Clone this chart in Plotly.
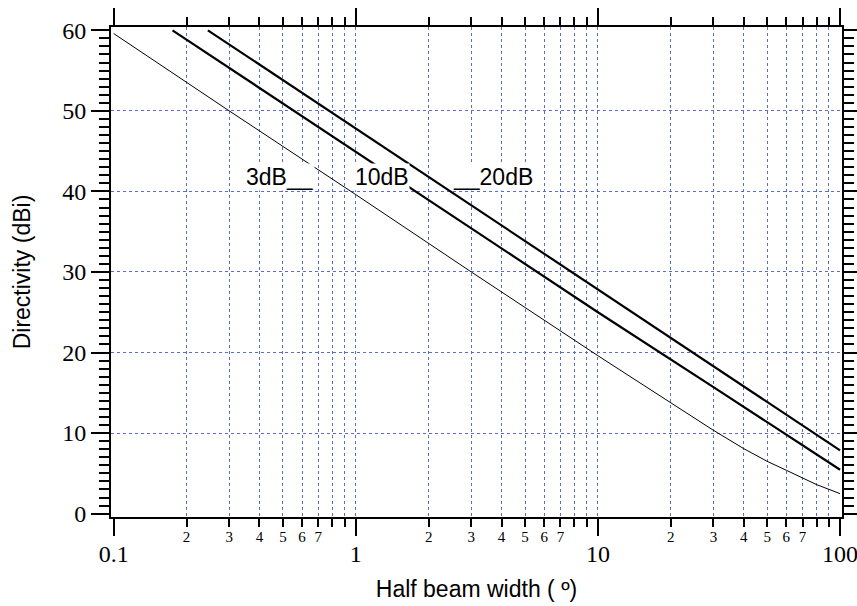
import math
import plotly.graph_objects as go

# ---- data ----
x_3db = [0.1, 0.3, 1, 3, 10, 20, 30, 40, 50, 60, 70, 80, 100]
y_3db = [59.6, 50.0, 39.6, 30.0, 19.6, 13.73, 10.34, 8.07, 6.49, 5.38, 4.42, 3.6, 2.48]

x_10db = [0.175, 1, 3, 10, 30, 100]
y_10db = [60.0, 44.9, 35.4, 25.0, 15.7, 5.45]

x_20db = [0.245, 1, 3, 10, 30, 100]
y_20db = [60.0, 47.8, 38.2, 27.8, 18.3, 7.85]

major_x = [0.1, 1, 10, 100]
major_x_text = ["0.1", "1", "10", "100"]
minor_digits = [2, 3, 4, 5, 6, 7, 8, 9]
labeled_digits = [2, 3, 4, 5, 6, 7]
decades = [0.1, 1, 10]
y_ticks = [0, 10, 20, 30, 40, 50, 60]
y_grid = [10, 20, 30, 40, 50]

labels = ["3dB__", "10dB", "__20dB"]
label_x = [0.35, 0.98, 2.5]
label_y = [41.8, 41.8, 41.8]

minor_x = [d * m for d in decades for m in minor_digits]
grid_x = sorted(minor_x + [1, 10])
grid_x_text = [str(m) if m in labeled_digits else ""
               for m in [round(v / 10 ** math.floor(math.log10(v) + 1e-9)) for v in grid_x]]

GRID = "#5a6ec8"
SERIF = "Liberation Serif, Times New Roman, serif"
SANS = "Liberation Sans, Arial, sans-serif"

fig = go.Figure()
fig.add_trace(go.Scatter(x=x_3db, y=y_3db, mode="lines",
                         line=dict(color="black", width=1), showlegend=False))
fig.add_trace(go.Scatter(x=x_10db, y=y_10db, mode="lines", yaxis="y2",
                         line=dict(color="black", width=2.2), showlegend=False))
fig.add_trace(go.Scatter(x=x_20db, y=y_20db, mode="lines", xaxis="x2",
                         line=dict(color="black", width=2.2), showlegend=False))

xrange = [-1.011, 2.008]
yrange = [-0.42, 60.41]

fig.update_layout(
    width=857, height=606,
    margin=dict(l=111, r=15, t=27, b=89),
    paper_bgcolor="white", plot_bgcolor="white",
    showlegend=False,
    xaxis=dict(
        type="log", range=xrange, automargin=False,
        tickvals=major_x, ticktext=major_x_text,
        tickfont=dict(family=SERIF, size=24, color="black"),
        ticklabelstandoff=-3, ticklabeloverflow="allow",
        ticks="outside", ticklen=17, tickwidth=2, tickcolor="black",
        showline=True, linewidth=2, linecolor="black", mirror="ticks",
        showgrid=False, zeroline=False,
        minor=dict(tickvals=minor_x, ticks="outside", ticklen=8, tickwidth=1.5,
                   tickcolor="black", showgrid=False),
        title=dict(text="Half beam width ( º)", font=dict(family=SANS, size=23, color="black"),
                   standoff=15),
    ),
    xaxis2=dict(
        type="log", range=xrange, overlaying="x", anchor="y", side="bottom",
        automargin=False,
        tickvals=grid_x, ticktext=grid_x_text,
        tickfont=dict(family=SERIF, size=15, color="black"),
        ticklabelstandoff=-2, ticklabeloverflow="allow",
        ticks="outside", ticklen=8, tickcolor="rgba(0,0,0,0)",
        showline=False, zeroline=False,
        showgrid=True, gridcolor=GRID, griddash="dot", gridwidth=1,
    ),
    yaxis=dict(
        range=yrange, automargin=False,
        tickvals=y_ticks,
        tickfont=dict(family=SERIF, size=24, color="black"),
        ticks="outside", ticklen=18, tickwidth=2, tickcolor="black",
        showline=True, linewidth=2, linecolor="black", mirror="ticks",
        showgrid=False, zeroline=False,
        minor=dict(dtick=1, ticks="outside", ticklen=10, tickwidth=1.5,
                   tickcolor="black", showgrid=False),
        title=dict(text="Directivity (dBi)", font=dict(family=SANS, size=23, color="black"),
                   standoff=25),
    ),
    yaxis2=dict(
        range=yrange, overlaying="y", anchor="x", side="left", automargin=False,
        tickvals=y_grid, showticklabels=False, ticks="",
        showline=False, zeroline=False,
        showgrid=True, gridcolor=GRID, griddash="dot", gridwidth=1,
    ),
)

for t, lx, ly in zip(labels, label_x, label_y):
    fig.add_annotation(x=math.log10(lx), y=ly, xref="x", yref="y", text=t,
                       showarrow=False, xanchor="left", yanchor="middle",
                       font=dict(family=SANS, size=23, color="black"),
                       bgcolor="white", borderpad=0)

fig.write_html("out.html", config={"displayModeBar": False},
               post_script="document.body.style.margin='0px';")
